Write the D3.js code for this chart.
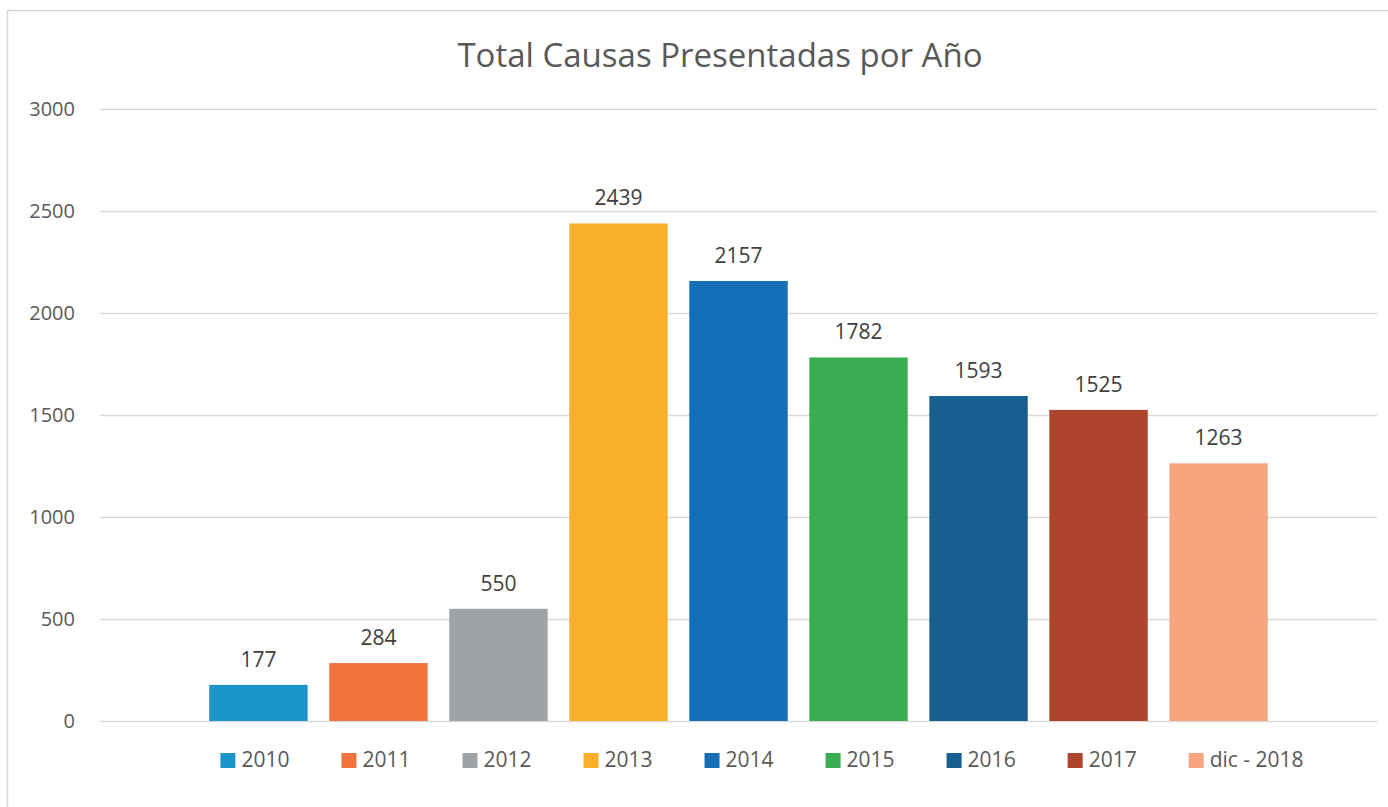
<!DOCTYPE html>
<html>
<head>
<meta charset="utf-8">
<script src="https://cdn.jsdelivr.net/npm/d3@7"></script>
<style>
html, body { margin: 0; padding: 0; background: #fff; }
svg { display: block; }
</style>
</head>
<body>
<svg id="chart" width="1388" height="807"></svg>
<script>
const title = "Total Causas Presentadas por Año";
const categories = ["2010", "2011", "2012", "2013", "2014", "2015", "2016", "2017", "dic - 2018"];
const values = [177, 284, 550, 2439, 2157, 1782, 1593, 1525, 1263];
const colors = ["#1b95c9", "#f2743c", "#a0a3a6", "#f9af2a", "#136fb8", "#38ae51", "#165f8f", "#ae442c", "#f6a57f"];
const yTicks = [0, 500, 1000, 1500, 2000, 2500, 3000];

const svg = d3.select("#chart");
const font = "'Open Sans', 'Liberation Sans', sans-serif";
const textColor = "#595959";

// chart border
svg.append("rect")
  .attr("x", 7.5).attr("y", 10.5)
  .attr("width", 1400).attr("height", 820)
  .attr("fill", "#fff").attr("stroke", "#d9d9d9").attr("stroke-width", 1.5);

const plot = { left: 100, right: 1377, top: 109, bottom: 721 };

const y = d3.scaleLinear().domain([0, 3000]).range([plot.bottom, plot.top]);
const x = d3.scaleBand().domain(categories).range([plot.left, plot.right])
  .paddingInner(0.18).paddingOuter(0.91);

// title
svg.append("text")
  .attr("x", 720).attr("y", 67)
  .attr("text-anchor", "middle")
  .attr("font-family", font).attr("font-size", 33)
  .attr("fill", textColor)
  .text(title);

// y axis (gridlines + labels)
const yAxis = d3.axisLeft(y).tickValues(yTicks).tickSize(-(plot.right - plot.left)).tickPadding(25)
  .tickFormat(d3.format("d"));
const gy = svg.append("g").attr("transform", `translate(${plot.left},0)`).call(yAxis);
gy.select(".domain").remove();
gy.selectAll(".tick line").attr("stroke", "#d9d9d9").attr("stroke-width", 1.5);
gy.selectAll(".tick text")
  .attr("font-family", font).attr("font-size", 20)
  .attr("fill", textColor);

// bars
const data = categories.map((c, i) => ({ c, v: values[i], color: colors[i] }));
svg.append("g").selectAll("rect").data(data).join("rect")
  .attr("x", d => x(d.c))
  .attr("y", d => y(d.v))
  .attr("width", x.bandwidth())
  .attr("height", d => y(0) - y(d.v))
  .attr("fill", d => d.color);

// data labels
svg.append("g").selectAll("text").data(data).join("text")
  .attr("x", d => x(d.c) + x.bandwidth() / 2)
  .attr("y", d => y(d.v) - 18)
  .attr("text-anchor", "middle")
  .attr("font-family", font).attr("font-size", 21)
  .attr("fill", "#404040")
  .text(d => d.v);

// legend
const legend = svg.append("g");
const items = legend.selectAll("g").data(data).join("g");
items.append("rect").attr("width", 15).attr("height", 15).attr("y", -14)
  .attr("fill", d => d.color);
items.append("text").attr("x", 21).attr("y", 0)
  .attr("font-family", font).attr("font-size", 21)
  .attr("fill", textColor)
  .text(d => d.c);
let cx = 0;
const positions = [];
items.each(function() {
  const w = d3.select(this).select("text").node().getComputedTextLength();
  positions.push(cx);
  cx += 21 + w + 52;
});
const totalW = cx - 52;
const startX = 762 - totalW / 2;
items.attr("transform", (d, i) => `translate(${startX + positions[i]},767)`);
</script>
</body>
</html>
